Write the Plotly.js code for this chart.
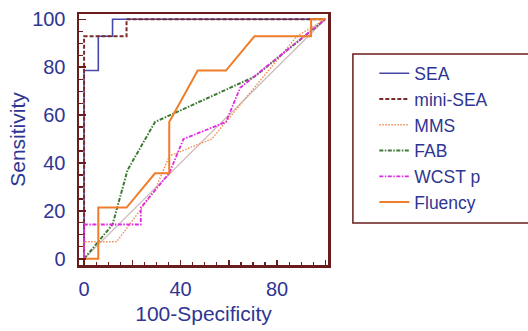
<!DOCTYPE html>
<html>
<head>
<meta charset="utf-8">
<script src="https://cdn.plot.ly/plotly-3.0.1.min.js"></script>
<style>html,body{margin:0;padding:0;background:#fff;}#chart{width:528px;height:331px;}</style>
</head>
<body>
<div id="chart"></div>
<script>
// ROC curves: x = 100-Specificity, y = Sensitivity
const seaX = [0, 0, 5.9, 5.9, 11.8, 11.8, 100];
const seaY = [0, 78.6, 78.6, 92.9, 92.9, 100, 100];

const miniSeaX = [0, 0, 17.6, 17.6, 100];
const miniSeaY = [0, 92.9, 92.9, 100, 100];

const mmsX = [0, 0, 13.5, 29.4, 35.3, 52.9, 64.7, 88.2, 100];
const mmsY = [0, 7.1, 7.1, 28.6, 42.9, 50, 64.3, 92.9, 100];

const fabX = [0, 11.8, 18, 29.4, 70.6, 100];
const fabY = [0, 14.3, 37, 57.1, 76, 100];

const wcstX = [0, 0, 23.5, 23.5, 35.3, 41.2, 58.8, 64.7, 100];
const wcstY = [0, 14.3, 14.3, 21.4, 35.7, 50, 57.1, 71.4, 100];

const fluencyX = [0, 5.9, 5.9, 17.6, 29.4, 35.3, 35.3, 47.1, 58.8, 70.6, 94.1, 94.1, 100];
const fluencyY = [0, 0, 21.4, 21.4, 35.7, 35.7, 57.1, 78.6, 78.6, 92.9, 92.9, 100, 100];

const refX = [0, 100];
const refY = [0, 100];

const xTickVals = [0, 20, 40, 60, 80, 100];
const xTickText = ['0', '', '40', '', '80', ''];
const yTickVals = [0, 20, 40, 60, 80, 100];
const yTickText = ['0', '20', '40', '60', '80', '100'];

const textBlue = '#2f3592';
const frame = '#6a1b1b';
const FONT = 'Liberation Sans, Arial, sans-serif';

const traces = [
  {x: refX, y: refY, mode: 'lines', line: {color: '#cdb7b7', width: 1.2}, showlegend: false, hoverinfo: 'skip'},
  {x: seaX, y: seaY, name: 'SEA', mode: 'lines', line: {color: '#4848a8', width: 1.6}},
  {x: miniSeaX, y: miniSeaY, name: 'mini-SEA', mode: 'lines', line: {color: '#7a2c2c', width: 2, dash: '4px,2px'}},
  {x: mmsX, y: mmsY, name: 'MMS', mode: 'lines', line: {color: '#f08c50', width: 1.4, dash: '1.5px,1.5px'}},
  {x: fabX, y: fabY, name: 'FAB', mode: 'lines', line: {color: '#3f7a35', width: 2, dash: '4px,1.5px,1.5px,1.5px'}},
  {x: wcstX, y: wcstY, name: 'WCST p', mode: 'lines', line: {color: '#e22ae2', width: 1.8, dash: '4px,1.5px,1.5px,1.5px'}},
  {x: fluencyX, y: fluencyY, name: 'Fluency', mode: 'lines', line: {color: '#f07d2a', width: 2}}
];

const layout = {
  width: 528, height: 331,
  margin: {l: 79, r: 200, t: 14, b: 66, pad: 0},
  paper_bgcolor: '#fff', plot_bgcolor: '#fff',
  font: {family: FONT, color: textBlue, size: 20},
  showlegend: true,
  xaxis: {
    range: [-2.1, 101.1], showgrid: false, zeroline: false,
    showline: true, mirror: true, linecolor: frame, linewidth: 2.5,
    ticks: 'inside', ticklen: 5, tickwidth: 1.5, tickcolor: frame,
    tickvals: xTickVals, ticktext: xTickText, ticklabelstandoff: 4,
    minor: {dtick: 5, ticks: 'inside', ticklen: 3, tickwidth: 1.2, tickcolor: frame},
    tickfont: {size: 20, color: textBlue},
    title: {text: '100-Specificity', font: {size: 21, color: textBlue}, standoff: 8}
  },
  yaxis: {
    range: [-2.6, 102.2], showgrid: false, zeroline: false,
    showline: true, mirror: true, linecolor: frame, linewidth: 2.5,
    ticks: 'inside', ticklen: 7, tickwidth: 1.5, tickcolor: frame,
    tickvals: yTickVals, ticktext: yTickText, ticklabelstandoff: 7,
    minor: {dtick: 5, ticks: 'inside', ticklen: 4, tickwidth: 1.2, tickcolor: frame},
    tickfont: {size: 20, color: textBlue},
    title: {text: 'Sensitivity', font: {size: 21, color: textBlue}, standoff: 1}
  },
  legend: {
    x: 1.186, xanchor: 'left', xref: 'paper',
    y: 0.835, yanchor: 'top', yref: 'paper',
    borderwidth: 0, bgcolor: 'rgba(0,0,0,0)',
    font: {size: 17.5, color: textBlue, family: FONT},
    itemwidth: 30
  },
  shapes: [{
    type: 'rect', xref: 'paper', yref: 'paper',
    x0: 1.1, x1: 1.9, y0: 0.167, y1: 0.841,
    line: {color: frame, width: 1.5}, fillcolor: 'rgba(0,0,0,0)'
  }]
};

Plotly.newPlot('chart', traces, layout, {displayModeBar: false, staticPlot: true});
</script>
</body>
</html>
